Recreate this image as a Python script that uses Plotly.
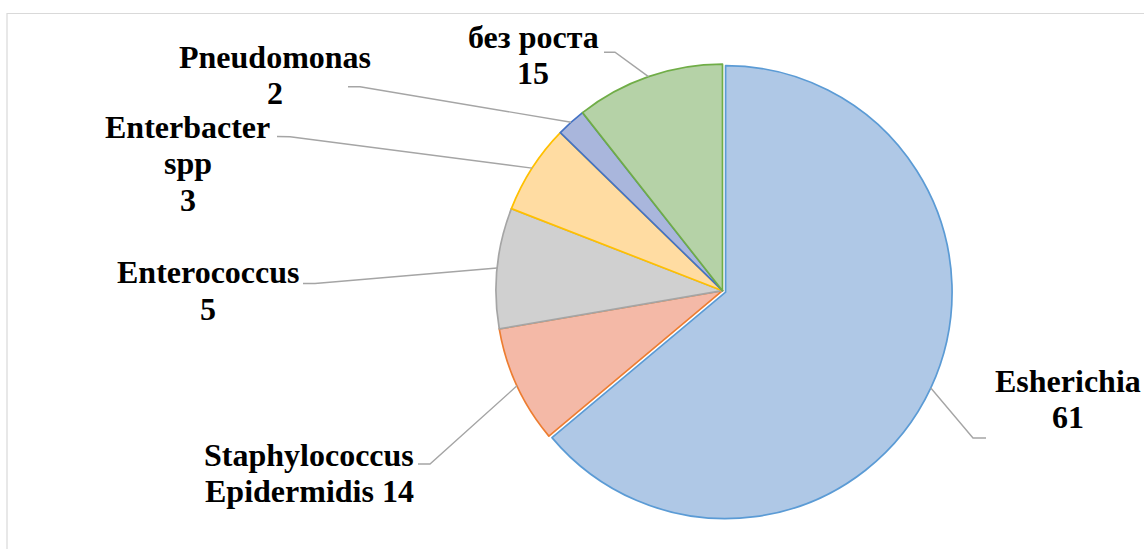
import math
import plotly.graph_objects as go

W, H = 1144, 549

# ---- data ----
categories = ["Esherichia", "Staphylococcus Epidermidis", "Enterococcus",
              "Enterbacter spp", "Pneudomonas", "без роста"]
slice_shares = [63.9, 8.4, 8.6, 6.4, 2.1, 10.6]      # slice sizes as drawn
label_numbers = [61, 14, 5, 3, 2, 15]                 # numbers printed in labels
label_name_lines = [["Esherichia"], ["Staphylococcus", "Epidermidis"], ["Enterococcus"],
                    ["Enterbacter", "spp"], ["Pneudomonas"], ["без роста"]]
number_inline = [False, True, False, False, False, False]

# ---- styles ----
fill_colors = ["#AFC8E6", "#F4B9A7", "#D0D0D0", "#FFDCA2", "#A9B6DC", "#B5D2A7"]
edge_colors = ["#5B9BD5", "#ED7D31", "#A5A5A5", "#FFC000", "#4472C4", "#70AD47"]
pulls = [0.015, 0, 0, 0, 0, 0]

# pie geometry in pixels
CX, CY, R = 722.5, 290.7, 226.5
max_pull = max(pulls)
half = R * (1 + max_pull)
dom_x = [(CX - half) / W, (CX + half) / W]
dom_y = [1 - (CY + half) / H, 1 - (CY - half) / H]

# label layout (pixels): first-line centre x, first-line middle y, elbow, end
FONT = 32
LINE_GAP = 36.5
label_pos = [
    (1068, 380.5, (973, 438), (986, 438)),
    (309, 454.5, (430, 464), (418, 464)),
    (208, 272.5, (315, 283.5), (303, 283.5)),
    (188, 126.5, (290, 136.7), (277, 136.5)),
    (275, 56.5, (360, 86.7), (348, 86.7)),
    (533, 36.5, (615, 52.3), (604, 52.3)),
]

fig = go.Figure(go.Pie(
    labels=categories,
    values=slice_shares,
    sort=False,
    direction="clockwise",
    rotation=0,
    pull=pulls,
    textinfo="none",
    hoverinfo="label",
    marker=dict(colors=fill_colors, line=dict(color=edge_colors, width=1.7)),
    domain=dict(x=dom_x, y=dom_y),
    showlegend=False,
))


def px(x, y):
    return x / W, 1 - y / H


shapes = []
annotations = []
total = sum(slice_shares)
cum = 0.0
for i, v in enumerate(slice_shares):
    mid = (cum + v / 2) / total * 2 * math.pi
    cum += v
    r_eff = R * (1 + pulls[i])
    ax = CX + r_eff * math.sin(mid)
    ay = CY - r_eff * math.cos(mid)
    lx, ly, elbow, end = label_pos[i]
    pts = [px(ax, ay), px(*elbow), px(*end)]
    path = "M {} {} L {} {} L {} {}".format(*[c for p in pts for c in p])
    shapes.append(dict(type="path", xref="paper", yref="paper", path=path,
                       line=dict(color="#A5A5A5", width=1.4)))
    lines = list(label_name_lines[i])
    if number_inline[i]:
        lines[-1] = f"{lines[-1]} {label_numbers[i]}"
    else:
        lines.append(str(label_numbers[i]))
    for k, t in enumerate(lines):
        x0, y0 = px(lx, ly + k * LINE_GAP)
        annotations.append(dict(
            x=x0, y=y0, xref="paper", yref="paper", xanchor="center", yanchor="middle",
            text=t, showarrow=False,
            font=dict(family="Liberation Serif", size=FONT, color="#000000", weight="bold"),
        ))

# outer chart border (light grey)
shapes.append(dict(type="rect", xref="paper", yref="paper",
                   x0=7 / W, y0=-0.05, x1=1.05, y1=1 - 13.5 / H,
                   line=dict(color="#D9D9D9", width=1.2), fillcolor="rgba(0,0,0,0)"))

fig.update_layout(
    width=W, height=H,
    margin=dict(l=0, r=0, t=0, b=0),
    paper_bgcolor="white", plot_bgcolor="white",
    shapes=shapes, annotations=annotations,
)

fig.write_html(
    "out.html",
    config={"displayModeBar": False},
    post_script="document.body.style.margin='0';document.documentElement.style.overflow='hidden';",
)
